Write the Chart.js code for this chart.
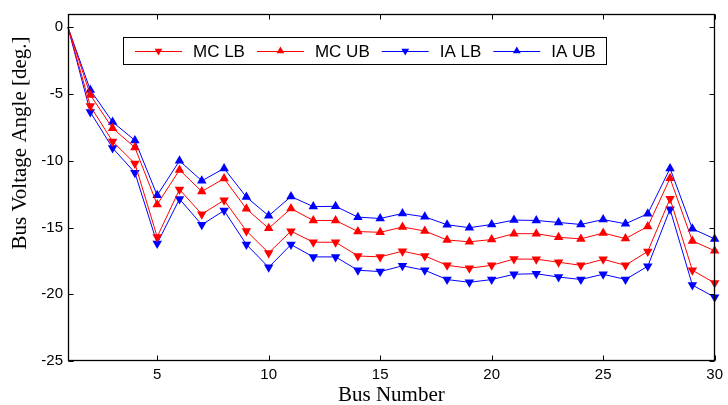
<!DOCTYPE html>
<html>
<head>
<meta charset="utf-8">
<script src="https://cdn.jsdelivr.net/npm/chart.js"></script>
<style>
  html, body { margin: 0; padding: 0; background: #fff; }
  #wrap { width: 728px; height: 405px; }
</style>
</head>
<body>
<div id="wrap"><canvas id="mycanvas" width="728" height="405"></canvas></div>
<script>
// bus numbers and angle bounds [deg.]
var busNumbers = [1, 2, 3, 4, 5, 6, 7, 8, 9, 10, 11, 12, 13, 14, 15, 16, 17, 18, 19, 20, 21, 22, 23, 24, 25, 26, 27, 28, 29, 30];
var mcLB = [0, -5.9, -8.55, -10.2, -15.7, -12.15, -14.0, -12.95, -15.25, -16.9, -15.27, -16.1, -16.1, -17.13, -17.2, -16.77, -17.13, -17.83, -18.05, -17.83, -17.36, -17.37, -17.6, -17.83, -17.38, -17.83, -16.79, -12.84, -18.2, -19.16];
var mcUB = [0, -5.06, -7.56, -9.0, -13.28, -10.68, -12.3, -11.33, -13.6, -15.06, -13.58, -14.47, -14.47, -15.3, -15.36, -14.96, -15.26, -15.93, -16.07, -15.9, -15.46, -15.46, -15.73, -15.85, -15.41, -15.83, -14.92, -11.31, -16.0, -16.74];
var iaLB = [0, -6.35, -9.04, -10.89, -16.2, -12.86, -14.79, -13.73, -16.27, -17.98, -16.28, -17.2, -17.2, -18.2, -18.3, -17.87, -18.2, -18.9, -19.1, -18.9, -18.5, -18.46, -18.71, -18.89, -18.5, -18.89, -17.9, -13.63, -19.31, -20.22];
var iaUB = [0, -4.69, -7.09, -8.47, -12.59, -10.0, -11.5, -10.57, -12.72, -14.12, -12.68, -13.43, -13.41, -14.22, -14.32, -13.95, -14.2, -14.79, -15.01, -14.77, -14.44, -14.47, -14.62, -14.77, -14.4, -14.72, -13.97, -10.57, -15.09, -15.85];
var xTicks = [5, 10, 15, 20, 25, 30];
var yTicks = [-25, -20, -15, -10, -5, 0];

var RED = '#ff0000';
var BLUE = '#0000ff';

function toPoints(values) {
	var pts = [];
	for (var i in values) {
		pts.push({x: busNumbers[i], y: values[i]});
	}
	return pts;
}

function makeSet(label, values, color, down) {
	return {
		label: label,
		data: toPoints(values),
		borderColor: color,
		backgroundColor: color,
		borderWidth: 1,
		pointStyle: 'triangle',
		pointRotation: down ? 180 : 0,
		pointRadius: function(c) { return c.dataIndex === 0 ? 0 : 5.5; },
		pointBorderWidth: 0,
		pointBackgroundColor: color,
		tension: 0,
		clip: false
	};
}

// frame with inward ticks, like a matlab box
var framePlugin = {
	id: 'frame',
	afterDraw: function(chart) {
		var ctx = chart.ctx;
		var a = chart.chartArea;
		var xs = chart.scales.x, ys = chart.scales.y;
		var L = Math.round(a.left) + 0.5, R = Math.round(a.right) - 0.5;
		var T = Math.round(a.top) + 0.5, B = Math.round(a.bottom) - 0.5;
		ctx.save();
		ctx.strokeStyle = '#000';
		ctx.lineWidth = 1.3;
		ctx.strokeRect(L, T, R - L, B - T);
		ctx.lineWidth = 1;
		ctx.beginPath();
		xTicks.forEach(function(v) {
			var px = Math.round(xs.getPixelForValue(v)) + 0.5;
			ctx.moveTo(px, B); ctx.lineTo(px, B - 5);
			ctx.moveTo(px, T); ctx.lineTo(px, T + 5);
		});
		yTicks.forEach(function(v) {
			var py = Math.round(ys.getPixelForValue(v)) + 0.5;
			ctx.moveTo(L, py); ctx.lineTo(L + 5, py);
			ctx.moveTo(R, py); ctx.lineTo(R - 5, py);
		});
		ctx.stroke();

		// y axis label
		ctx.fillStyle = '#000';
		ctx.font = '21px "Liberation Serif", "Times New Roman", serif';
		ctx.textAlign = 'center';
		ctx.textBaseline = 'middle';
		ctx.translate(20, 143);
		ctx.rotate(-Math.PI / 2);
		ctx.fillText('Bus Voltage Angle [deg.]', 0, 0);
		ctx.restore();
	}
};

function triangle(ctx, x, y, r, down) {
	var s = down ? -1 : 1;
	ctx.beginPath();
	ctx.moveTo(x, y - s * r);
	ctx.lineTo(x + r * 0.866, y + s * r * 0.5);
	ctx.lineTo(x - r * 0.866, y + s * r * 0.5);
	ctx.closePath();
	ctx.fill();
}

// boxed legend with line sample + marker
var legendPlugin = {
	id: 'boxLegend',
	afterDraw: function(chart) {
		var ctx = chart.ctx;
		ctx.save();
		ctx.fillStyle = '#fff';
		ctx.fillRect(123, 37, 483, 27);
		ctx.strokeStyle = '#000';
		ctx.lineWidth = 1;
		ctx.strokeRect(123.5, 37.5, 483, 27);
		ctx.font = '17px "Liberation Sans", Arial, sans-serif';
		ctx.textBaseline = 'middle';
		ctx.textAlign = 'left';
		var cx = 135, cy = 51;
		chart.data.datasets.forEach(function(ds) {
			ctx.strokeStyle = ds.borderColor;
			ctx.fillStyle = ds.borderColor;
			ctx.beginPath();
			ctx.moveTo(cx, cy + 0.5);
			ctx.lineTo(cx + 47, cy + 0.5);
			ctx.stroke();
			triangle(ctx, cx + 23.5, cy, 4.5, ds.pointRotation === 180);
			ctx.fillStyle = '#000';
			ctx.fillText(ds.label, cx + 58, cy + 1);
			cx += 58 + ctx.measureText(ds.label).width + 12;
		});
		ctx.restore();
	}
};

Chart.defaults.font.family = '"Liberation Sans", Arial, sans-serif';
Chart.defaults.color = '#000';

var ctx = document.getElementById('mycanvas');
var chart = new Chart(ctx, {
	type: 'line',
	data: {
		datasets: [
			makeSet('MC LB', mcLB, RED, true),
			makeSet('MC UB', mcUB, RED, false),
			makeSet('IA LB', iaLB, BLUE, true),
			makeSet('IA UB', iaUB, BLUE, false)
		]
	},
	options: {
		responsive: false,
		animation: false,
		layout: { padding: { left: 0, right: 7, top: 11, bottom: 0 } },
		plugins: {
			legend: { display: false },
			tooltip: { enabled: false }
		},
		scales: {
			x: {
				type: 'linear',
				min: 1,
				max: 30,
				afterBuildTicks: function(s) { s.ticks = xTicks.map(function(v) { return {value: v}; }); },
				afterFit: function(s) { s.height = 44; },
				ticks: { autoSkip: false, maxRotation: 0, padding: 5, font: { size: 15 }, color: '#000' },
				grid: { display: false, drawTicks: false },
				border: { display: false },
				title: {
					display: true,
					text: 'Bus Number',
					color: '#000',
					padding: { top: 0, bottom: -1 },
					font: { family: '"Liberation Serif", "Times New Roman", serif', size: 21, lineHeight: 1 }
				}
			},
			y: {
				type: 'linear',
				min: -25,
				max: 1,
				afterBuildTicks: function(s) { s.ticks = yTicks.map(function(v) { return {value: v}; }); },
				afterFit: function(s) { s.width = 68; },
				ticks: { autoSkip: false, padding: 5, font: { size: 15 }, color: '#000' },
				grid: { display: false, drawTicks: false },
				border: { display: false }
			}
		}
	},
	plugins: [framePlugin, legendPlugin]
});
</script>
</body>
</html>
